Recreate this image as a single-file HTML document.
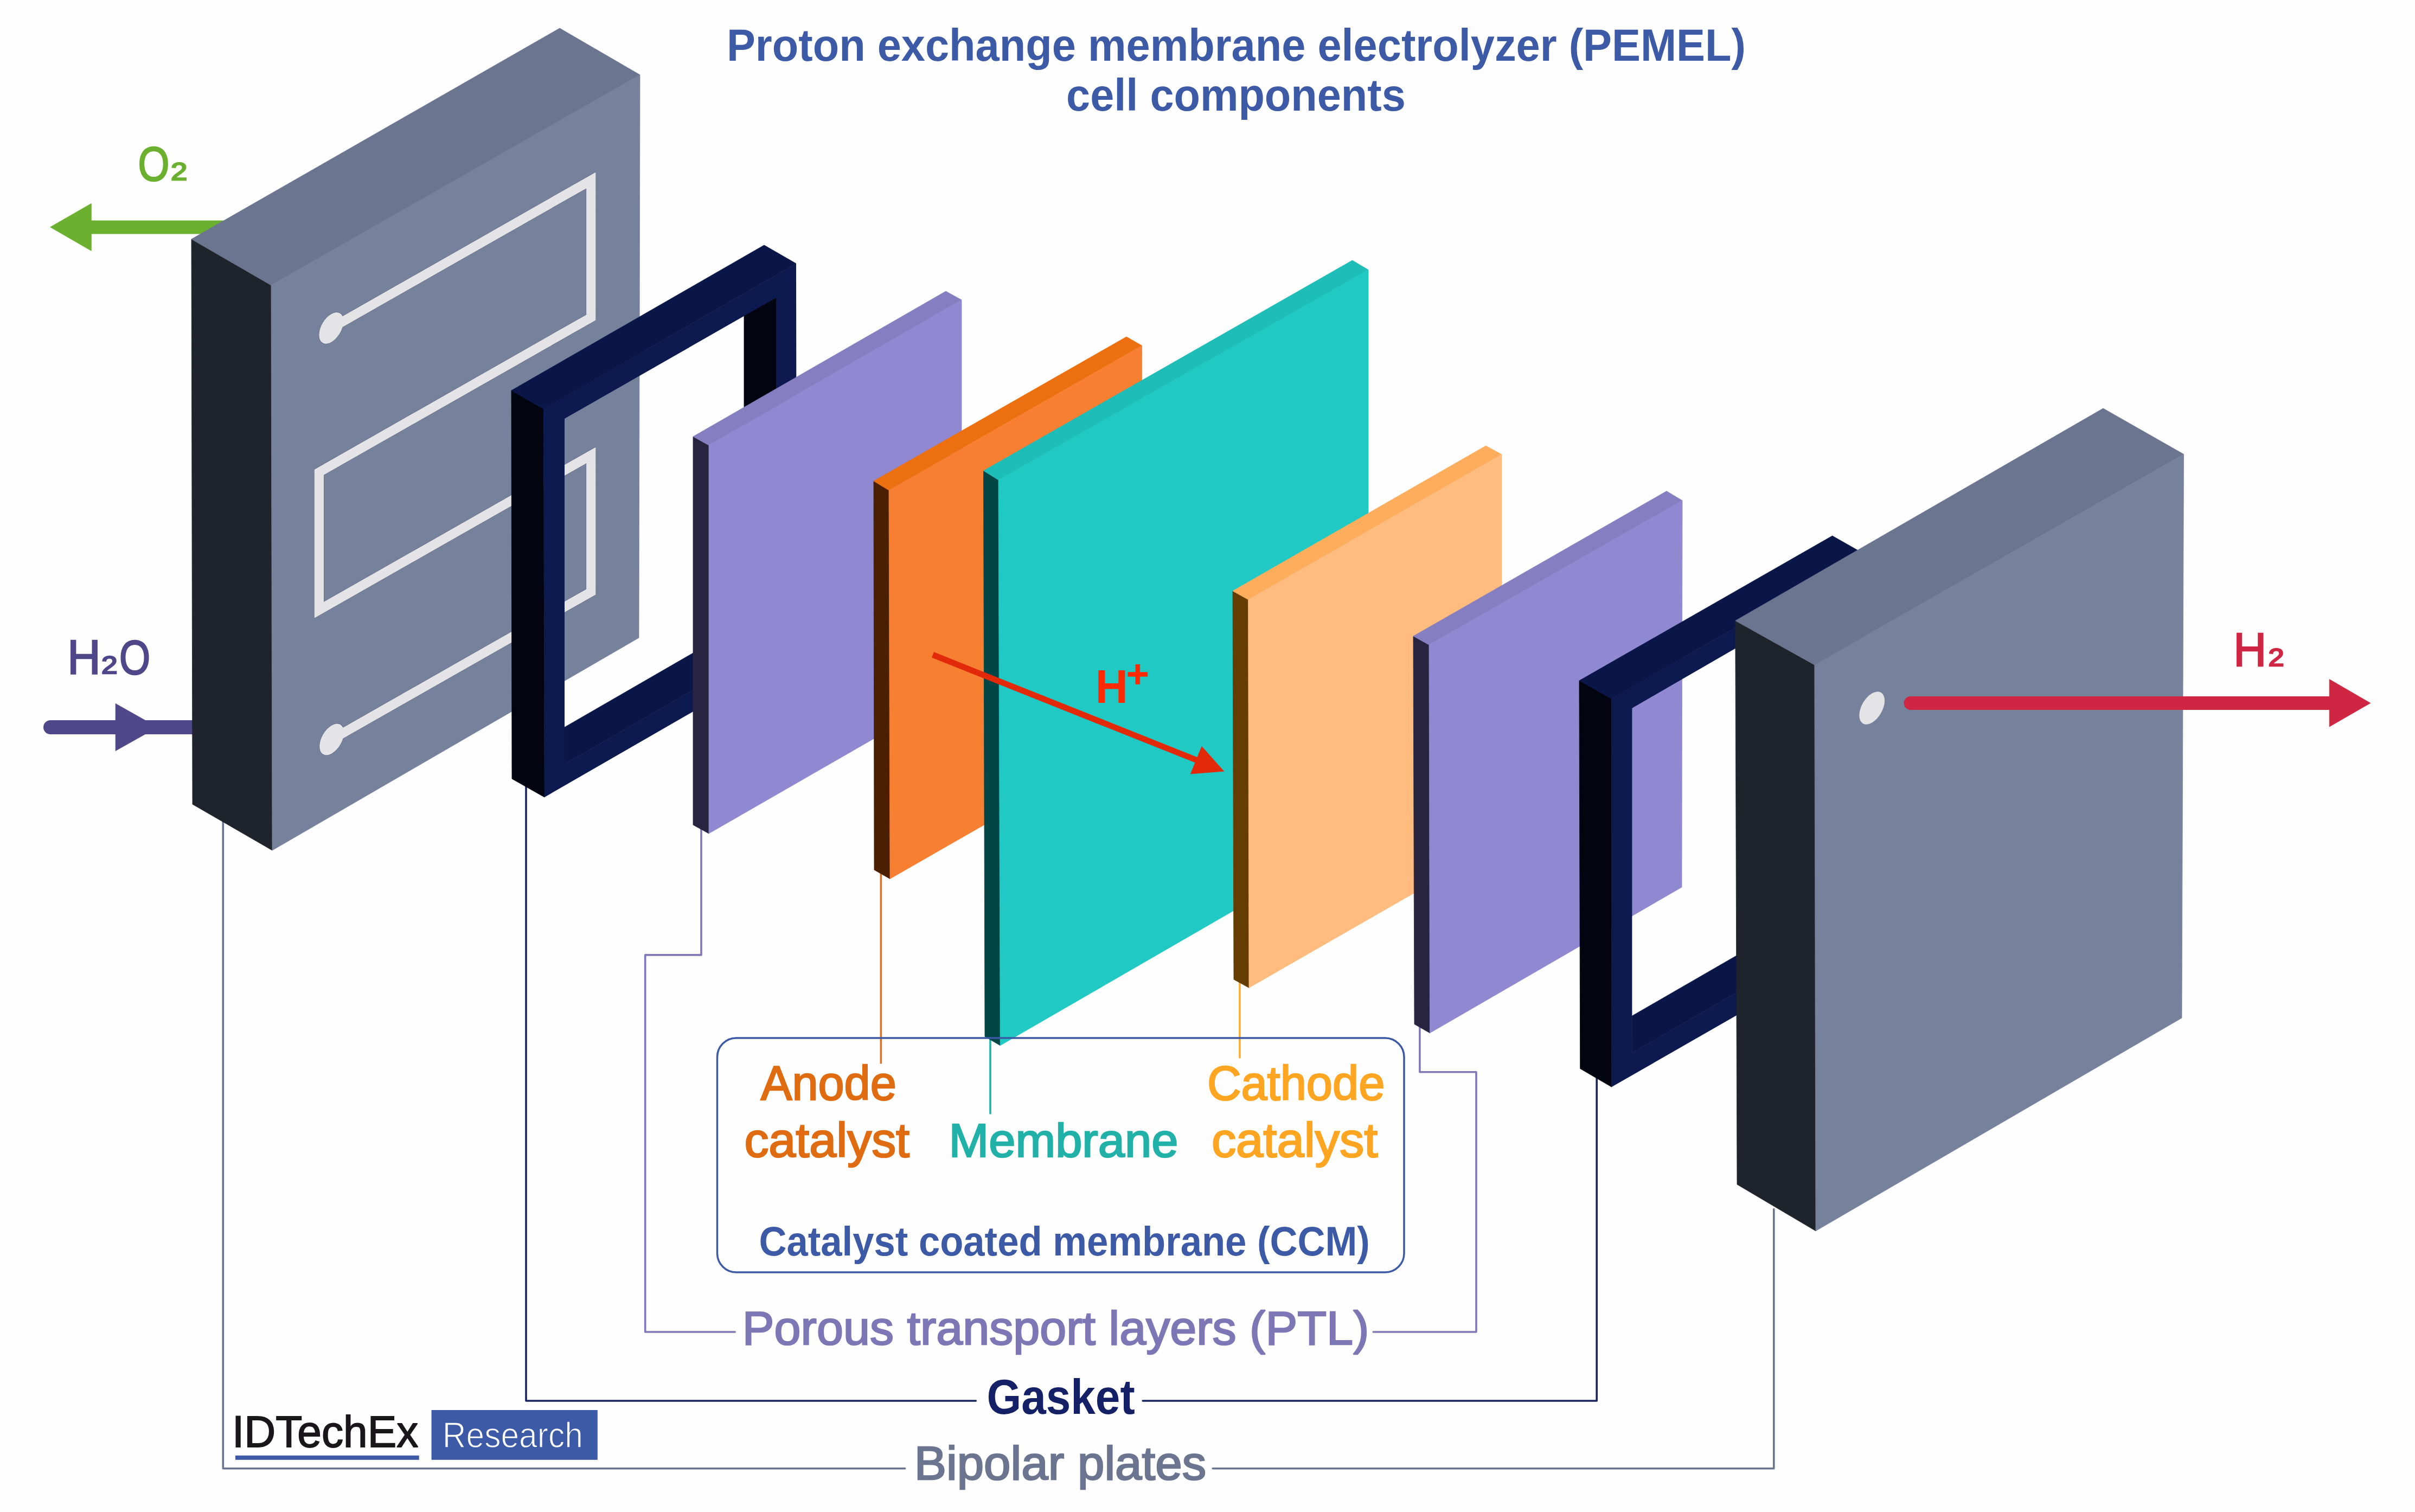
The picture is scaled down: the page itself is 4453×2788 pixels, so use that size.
<!DOCTYPE html>
<html><head><meta charset="utf-8"><style>
html,body{margin:0;padding:0;background:#fefefe;overflow:hidden;}
svg{display:block;}
text{font-family:"Liberation Sans",sans-serif;}
</style></head><body>
<svg width="4453" height="2788" viewBox="0 0 4453 2788">
<rect width="4453" height="2788" fill="#fefefe"/>
<rect x="165" y="406.5" width="260" height="25" fill="#6bb02e"/>
<polygon points="92.7,418.8 168.3,375.3 168.3,462.4" fill="#6bb02e" stroke="#6bb02e" stroke-width="0.8"/>
<line x1="93" y1="1341" x2="380" y2="1341" stroke="#4f4789" stroke-width="26" stroke-linecap="round"/>
<polygon points="213.1,1297.4 290.4,1341.0 213.1,1384.4" fill="#4f4789" stroke="#4f4789" stroke-width="0.8"/>
<polyline points="411.3,1505.0 411.3,2707.8 1668.6,2707.8" fill="none" stroke="#6b7590" stroke-width="3.6" stroke-linejoin="round" stroke-linecap="round"/>
<polyline points="2236.2,2707.8 3270.8,2707.8 3270.8,2229.5" fill="none" stroke="#6b7590" stroke-width="3.6" stroke-linejoin="round" stroke-linecap="round"/>
<polygon points="353.0,441.0 500.0,526.0 502.0,1568.0 355.0,1483.0" fill="#1f232b" stroke="#1f232b" stroke-width="0.8"/>
<polygon points="353.0,441.0 1032.0,52.0 1180.0,138.0 500.0,526.0" fill="#6b7590" stroke="#6b7590" stroke-width="0.8"/>
<polygon points="500.0,526.0 1180.0,138.0 1178.0,1176.0 502.0,1568.0" fill="#76819c" stroke="#76819c" stroke-width="0.8"/>
<g transform="matrix(0.866,-0.4928,0,1,500,526)"><polyline points="127,142 681,142 681,395 102,395 102,649 681,649 681,901 129,901" fill="none" stroke="#5c6680" stroke-width="21.2" stroke-linejoin="miter" stroke-miterlimit="10"/><circle cx="128" cy="142" r="26.6" fill="#5c6680"/><circle cx="129" cy="901" r="26.6" fill="#5c6680"/><polyline points="127,142 681,142 681,395 102,395 102,649 681,649 681,901 129,901" fill="none" stroke="#e4e4e6" stroke-width="20" stroke-linejoin="miter" stroke-miterlimit="10"/><circle cx="128" cy="142" r="26" fill="#e4e4e6"/><circle cx="129" cy="901" r="26" fill="#e4e4e6"/></g>
<polyline points="970.0,1440.0 970.0,2583.0 1799.3,2583.0" fill="none" stroke="#192563" stroke-width="3.6" stroke-linejoin="round" stroke-linecap="round"/>
<polyline points="2107.2,2583.0 2944.2,2583.0 2944.2,1980.0" fill="none" stroke="#192563" stroke-width="3.6" stroke-linejoin="round" stroke-linecap="round"/>
<polygon points="943.0,720.0 1002.0,754.0 1004.0,1470.0 944.0,1436.0" fill="#02040f" stroke="#02040f" stroke-width="0.8"/>
<polygon points="943.0,720.0 1409.0,452.0 1468.0,486.0 1002.0,754.0" fill="#0a1647" stroke="#0a1647" stroke-width="0.8"/>
<polygon points="1041.0,1340.9 1372.0,1149.8 1431.0,1184.0 1041.0,1409.0" fill="#0a1647" stroke="#0a1647" stroke-width="0.8"/>
<polygon points="1372.0,580.9 1431.0,549.0 1431.0,1184.0 1372.0,1149.8" fill="#02040f" stroke="#02040f" stroke-width="0.8"/>
<path d="M1002.0,754.0 L1468.0,486.0 L1469.0,1202.0 L1004.0,1470.0 Z M1041.0,772.0 L1431.0,549.0 L1431.0,1184.0 L1041.0,1409.0 Z" fill="#0c1a4f" fill-rule="evenodd"/>
<polyline points="1293.0,1525.0 1293.0,1760.9 1189.7,1760.9 1189.7,2456.0 1355.2,2456.0" fill="none" stroke="#8078b8" stroke-width="3.6" stroke-linejoin="round" stroke-linecap="round"/>
<polyline points="2532.2,2456.0 2722.0,2456.0 2722.0,1976.8 2617.9,1976.8 2617.9,1895.0" fill="none" stroke="#8078b8" stroke-width="3.6" stroke-linejoin="round" stroke-linecap="round"/>
<polygon points="1278.0,805.0 1307.0,821.0 1307.0,1537.0 1278.0,1521.0" fill="#28243f" stroke="#28243f" stroke-width="0.8"/>
<polygon points="1278.0,805.0 1744.0,537.0 1773.0,553.0 1307.0,821.0" fill="#857fc2" stroke="#857fc2" stroke-width="0.8"/>
<polygon points="1307.0,821.0 1773.0,553.0 1773.0,1269.0 1307.0,1537.0" fill="#9089d2" stroke="#9089d2" stroke-width="0.8"/>
<polyline points="1624.4,1610.0 1624.4,1960.0" fill="none" stroke="#e0701c" stroke-width="3.6" stroke-linejoin="round" stroke-linecap="round"/>
<polygon points="1611.0,887.0 1639.0,904.0 1641.0,1620.5 1612.0,1604.0" fill="#4a1f02" stroke="#4a1f02" stroke-width="0.8"/>
<polygon points="1611.0,887.0 2077.0,621.0 2105.6,637.3 1639.0,904.0" fill="#ec700f" stroke="#ec700f" stroke-width="0.8"/>
<polygon points="1639.0,904.0 2105.6,637.3 2106.0,1354.0 1641.0,1620.5" fill="#f77f32" stroke="#f77f32" stroke-width="0.8"/>
<polyline points="1826.0,1915.0 1826.0,2053.0" fill="none" stroke="#20b3ad" stroke-width="3.6" stroke-linejoin="round" stroke-linecap="round"/>
<polygon points="1813.5,868.0 1841.0,885.0 1844.3,1927.8 1816.0,1911.3" fill="#034645" stroke="#034645" stroke-width="0.8"/>
<polygon points="1813.5,868.0 2493.6,480.0 2523.0,497.6 1841.0,885.0" fill="#1fbdb7" stroke="#1fbdb7" stroke-width="0.8"/>
<polygon points="1841.0,885.0 2523.0,497.6 2523.0,1535.6 1844.3,1927.8" fill="#21c9c4" stroke="#21c9c4" stroke-width="0.8"/>
<polyline points="2286.0,1810.0 2286.0,1950.0" fill="none" stroke="#fdab30" stroke-width="3.6" stroke-linejoin="round" stroke-linecap="round"/>
<polygon points="2273.0,1089.7 2301.6,1105.6 2303.0,1821.4 2275.0,1806.0" fill="#653d03" stroke="#653d03" stroke-width="0.8"/>
<polygon points="2273.0,1089.7 2739.7,822.0 2769.0,838.0 2301.6,1105.6" fill="#fdad5c" stroke="#fdad5c" stroke-width="0.8"/>
<polygon points="2301.6,1105.6 2769.0,838.0 2769.0,1554.0 2303.0,1821.4" fill="#ffbc7e" stroke="#ffbc7e" stroke-width="0.8"/>
<polygon points="2606.0,1173.0 2635.0,1189.0 2636.5,1904.8 2608.0,1888.5" fill="#28243f" stroke="#28243f" stroke-width="0.8"/>
<polygon points="2606.0,1173.0 3073.0,905.6 3102.0,923.0 2635.0,1189.0" fill="#857fc2" stroke="#857fc2" stroke-width="0.8"/>
<polygon points="2635.0,1189.0 3102.0,923.0 3101.0,1635.9 2636.5,1904.8" fill="#9089d2" stroke="#9089d2" stroke-width="0.8"/>
<polygon points="2912.0,1255.1 2971.1,1288.3 2971.7,2004.3 2913.7,1970.5" fill="#02040f" stroke="#02040f" stroke-width="0.8"/>
<polygon points="2912.0,1255.1 3378.6,988.0 3437.6,1021.5 2971.1,1288.3" fill="#0a1647" stroke="#0a1647" stroke-width="0.8"/>
<polygon points="3009.4,1873.2 3341.0,1681.8 3400.0,1716.0 3009.4,1941.3" fill="#0a1647" stroke="#0a1647" stroke-width="0.8"/>
<polygon points="3341.0,1114.2 3400.0,1080.0 3400.0,1716.0 3341.0,1681.8" fill="#02040f" stroke="#02040f" stroke-width="0.8"/>
<path d="M2971.1,1288.3 L3437.6,1021.5 L3437.6,1737.0 L2971.7,2004.3 Z M3009.4,1305.7 L3400.0,1080.0 L3400.0,1716.0 L3009.4,1941.3 Z" fill="#0c1a4f" fill-rule="evenodd"/>
<polygon points="3199.8,1144.6 3345.8,1226.0 3348.0,2269.8 3203.0,2184.0" fill="#1f232b" stroke="#1f232b" stroke-width="0.8"/>
<polygon points="3199.8,1144.6 3878.0,753.0 4026.5,837.6 3345.8,1226.0" fill="#6b7590" stroke="#6b7590" stroke-width="0.8"/>
<polygon points="3345.8,1226.0 4026.5,837.6 4023.0,1877.0 3348.0,2269.8" fill="#76819c" stroke="#76819c" stroke-width="0.8"/>
<g transform="matrix(0.866,-0.5,0,1,3451.7,1305.5)"><circle cx="0" cy="0" r="27" fill="#e4e4e6"/></g>
<line x1="3523" y1="1296.5" x2="4300" y2="1296.5" stroke="#cf2743" stroke-width="25" stroke-linecap="round"/>
<polygon points="4295.2,1252.6 4370.8,1296.4 4295.2,1340.0" fill="#cf2743" stroke="#cf2743" stroke-width="0.8"/>
<line x1="1720" y1="1207.4" x2="2210" y2="1403" stroke="#e2290a" stroke-width="11"/>
<polygon points="2256.7,1422.1 2215.9,1376.4 2195.4,1426.9" fill="#e2290a" stroke="#e2290a" stroke-width="0.8"/>
<rect x="1322.5" y="1914" width="1266.5" height="432" rx="35" ry="35" fill="none" stroke="#3d5aa6" stroke-width="3.5"/>
<rect x="434" y="2683.8" width="338.7" height="8" fill="#3d5aa6"/>
<rect x="795.6" y="2600" width="306.2" height="91.8" fill="#3d5aa6"/>
<text x="1339.9" y="112.0" font-size="82.63" fill="#3d5aa6" font-weight="bold" textLength="1879.1" lengthAdjust="spacingAndGlyphs">Proton exchange membrane electrolyzer (PEMEL)</text>
<text x="1966.1" y="204.0" font-size="82.63" fill="#3d5aa6" font-weight="bold" textLength="625.7" lengthAdjust="spacingAndGlyphs">cell components</text>
<text x="254.4" y="332.9" font-size="89.39" fill="#6bb02e" font-weight="normal" textLength="57.9" lengthAdjust="spacingAndGlyphs" stroke="#6bb02e" stroke-width="2.50" stroke-linejoin="miter" stroke-miterlimit="2">O</text>
<text x="315.0" y="331.6" font-size="45.64" fill="#6bb02e" font-weight="normal" textLength="30.3" lengthAdjust="spacingAndGlyphs" stroke="#6bb02e" stroke-width="2.50" stroke-linejoin="miter" stroke-miterlimit="2">2</text>
<text x="124.2" y="1241.8" font-size="88.37" fill="#4f4789" font-weight="normal" textLength="61.4" lengthAdjust="spacingAndGlyphs" stroke="#4f4789" stroke-width="2.50" stroke-linejoin="miter" stroke-miterlimit="2">H</text>
<text x="187.1" y="1241.8" font-size="45.93" fill="#4f4789" font-weight="normal" textLength="29.6" lengthAdjust="spacingAndGlyphs" stroke="#4f4789" stroke-width="2.50" stroke-linejoin="miter" stroke-miterlimit="2">2</text>
<text x="219.9" y="1242.8" font-size="89.68" fill="#4f4789" font-weight="normal" textLength="57.1" lengthAdjust="spacingAndGlyphs" stroke="#4f4789" stroke-width="2.50" stroke-linejoin="miter" stroke-miterlimit="2">O</text>
<text x="4118.3" y="1227.7" font-size="87.94" fill="#cf2743" font-weight="normal" textLength="60.9" lengthAdjust="spacingAndGlyphs" stroke="#cf2743" stroke-width="2.50" stroke-linejoin="miter" stroke-miterlimit="2">H</text>
<text x="4182.4" y="1227.7" font-size="46.08" fill="#cf2743" font-weight="normal" textLength="29.1" lengthAdjust="spacingAndGlyphs" stroke="#cf2743" stroke-width="2.50" stroke-linejoin="miter" stroke-miterlimit="2">2</text>
<text x="2019.7" y="1296.0" font-size="87.65" fill="#ff2a00" font-weight="bold" textLength="60.2" lengthAdjust="spacingAndGlyphs">H</text>
<text x="1402.7" y="2028.2" font-size="88.52" fill="#e06c12" font-weight="normal" textLength="250.1" lengthAdjust="spacingAndGlyphs" stroke="#e06c12" stroke-width="2.50" stroke-linejoin="miter" stroke-miterlimit="2">Anode</text>
<text x="1372.4" y="2132.7" font-size="88.52" fill="#e06c12" font-weight="normal" textLength="304.7" lengthAdjust="spacingAndGlyphs" stroke="#e06c12" stroke-width="2.50" stroke-linejoin="miter" stroke-miterlimit="2">catalyst</text>
<text x="1749.5" y="2132.7" font-size="87.79" fill="#21b1a8" font-weight="normal" textLength="423.0" lengthAdjust="spacingAndGlyphs" stroke="#21b1a8" stroke-width="2.50" stroke-linejoin="miter" stroke-miterlimit="2">Membrane</text>
<text x="2225.9" y="2028.2" font-size="88.52" fill="#fea522" font-weight="normal" textLength="327.5" lengthAdjust="spacingAndGlyphs" stroke="#fea522" stroke-width="2.50" stroke-linejoin="miter" stroke-miterlimit="2">Cathode</text>
<text x="2233.9" y="2132.7" font-size="88.52" fill="#fea522" font-weight="normal" textLength="306.5" lengthAdjust="spacingAndGlyphs" stroke="#fea522" stroke-width="2.50" stroke-linejoin="miter" stroke-miterlimit="2">catalyst</text>
<text x="1399.5" y="2315.4" font-size="75.44" fill="#3d5aa6" font-weight="bold" textLength="1126.4" lengthAdjust="spacingAndGlyphs">Catalyst coated membrane (CCM)</text>
<text x="1368.8" y="2478.9" font-size="87.07" fill="#7e77b5" font-weight="normal" textLength="1155.5" lengthAdjust="spacingAndGlyphs" stroke="#7e77b5" stroke-width="2.50" stroke-linejoin="miter" stroke-miterlimit="2">Porous transport layers (PTL)</text>
<text x="1819.4" y="2606.5" font-size="90.41" fill="#152166" font-weight="bold" textLength="273.3" lengthAdjust="spacingAndGlyphs">Gasket</text>
<text x="1685.7" y="2727.7" font-size="86.77" fill="#6b7590" font-weight="normal" textLength="538.4" lengthAdjust="spacingAndGlyphs" stroke="#6b7590" stroke-width="2.50" stroke-linejoin="miter" stroke-miterlimit="2">Bipolar plates</text>
<text x="428.0" y="2667.7" font-size="81.98" fill="#1a171b" font-weight="normal" textLength="343.3" lengthAdjust="spacingAndGlyphs" stroke="#1a171b" stroke-width="1.80" stroke-linejoin="miter" stroke-miterlimit="2">IDTechEx</text>
<text x="815.8" y="2668.6" font-size="65.99" fill="#ffffff" font-weight="normal" textLength="259.0" lengthAdjust="spacingAndGlyphs" stroke="#3d5aa6" stroke-width="1.4">Research</text>
<rect x="2079.4" y="1239.2" width="36.8" height="8.5" fill="#ff2a00"/>
<rect x="2093.5" y="1224.9" width="8.6" height="37" fill="#ff2a00"/>
</svg></body></html>
